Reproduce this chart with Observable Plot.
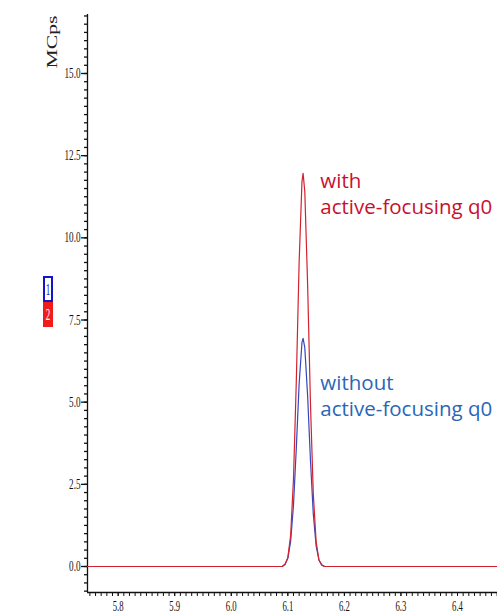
<!DOCTYPE html>
<html>
<head>
<meta charset="utf-8">
<script src="https://cdn.jsdelivr.net/npm/d3@7"></script>
<script src="https://cdn.jsdelivr.net/npm/@observablehq/plot@0.6"></script>
<style>
  html, body { margin: 0; padding: 0; background: #fff; }
  svg { display: block; }
</style>
</head>
<body>
<script>
// ---- data ----
const times = [5.74, 6.09, 6.095, 6.1, 6.105, 6.11, 6.115, 6.12, 6.125, 6.127, 6.13, 6.135, 6.14, 6.145, 6.15, 6.155, 6.16, 6.165, 6.48];
const withFocusing = [0, 0, 0.06, 0.27, 0.96, 2.66, 5.65, 9.27, 11.71, 11.96, 11.41, 8.57, 4.96, 2.21, 0.76, 0.20, 0.04, 0, 0];
const withoutFocusing = [0, 0, 0.07, 0.25, 0.77, 1.87, 3.61, 5.56, 6.82, 6.94, 6.66, 5.19, 3.23, 1.60, 0.63, 0.20, 0.05, 0, 0];

const xDomain = [5.7458, 6.4707];
const yDomain = [-0.791, 16.795];
const xLabelTicks = [5.8, 5.9, 6.0, 6.1, 6.2, 6.3, 6.4];
const xMinorTicks = d3.range(575, 648).map(v => v / 100);
const yLabelTicks = [0, 2.5, 5, 7.5, 10, 12.5, 15];
const yMinorTicks = d3.range(-3, 68).map(v => v / 4);
const unitLabel = ["MCps"];
const annotations = [
  {x: 6.1575, y: 11.72, text: "with", series: "with"},
  {x: 6.1575, y: 10.935, text: "active-focusing q0", series: "with"},
  {x: 6.1575, y: 5.58, text: "without", series: "without"},
  {x: 6.1575, y: 4.79, text: "active-focusing q0", series: "without"}
];

const redLine = "#d3222f";
const blueLine = "#3547bd";
const redText = "#c8102e";
const blueText = "#2a66b8";
const serif = "Liberation Serif";

const rows = times.map((t, i) => ({t, red: withFocusing[i], blue: withoutFocusing[i]}));

const chart = Plot.plot({
  width: 497,
  height: 614,
  marginLeft: 87,
  marginRight: 0,
  marginTop: 14,
  marginBottom: 22,
  x: {domain: xDomain},
  y: {domain: yDomain},
  style: {background: "white", fontFamily: serif, color: "#111"},
  marks: [
    Plot.axisY({ticks: yMinorTicks, tickSize: 3, tickFormat: () => "", label: null, strokeWidth: 1.3}),
    Plot.axisY({ticks: yLabelTicks, tickSize: 6, tickPadding: 1, tickFormat: d3.format(".1f"), fontSize: 14.5, fontFamily: serif, label: null, strokeWidth: 1.3}),
    Plot.axisX({ticks: xMinorTicks, tickSize: 4, tickFormat: () => "", label: null, strokeWidth: 1}),
    Plot.axisX({ticks: xLabelTicks, tickSize: 4, tickPadding: 3, tickFormat: d3.format(".1f"), fontSize: 15.5, fontFamily: serif, label: null}),
    Plot.ruleX([xDomain[0]], {stroke: "#111", strokeWidth: 1.3}),
    Plot.ruleY([yDomain[0]], {stroke: "#111", strokeWidth: 1.3}),
    Plot.lineY(rows, {x: "t", y: "blue", stroke: blueLine, strokeWidth: 1.2, clip: true}),
    Plot.lineY(rows, {x: "t", y: "red", stroke: redLine, strokeWidth: 1.2, clip: true}),
    Plot.text(annotations, {
      x: "x", y: "y", text: "text",
      fill: d => d.series === "with" ? redText : blueText,
      textAnchor: "start", lineAnchor: "middle",
      fontSize: 20.5, fontFamily: "Open Sans"
    }),
    Plot.text(unitLabel, {
      frameAnchor: "top-left", text: d => d, rotate: -90,
      dx: -35, dy: 27.5, textAnchor: "middle", lineAnchor: "middle",
      fontSize: 14.5, fontFamily: serif, fill: "#222"
    })
  ]
});

document.body.append(chart);

// condense the serif tick labels horizontally
const tickLabelPattern = /^-?\d+\.\d$/;
d3.select(chart).selectAll("text").each(function() {
  const txt = this.textContent;
  if (tickLabelPattern.test(txt)) {
    const isX = +this.getAttribute("font-size") === 15.5 || this.closest("g").getAttribute("aria-label") === "x-axis tick label";
    const s = isX ? 0.56 : 0.63;
    const tr = this.getAttribute("transform");
    if (tr) {
      this.setAttribute("transform", tr + ` scale(${s},1)`);
    } else {
      const x = this.getAttribute("x") || 0, y = this.getAttribute("y") || 0;
      this.removeAttribute("x"); this.removeAttribute("y");
      this.setAttribute("transform", `translate(${x},${y}) scale(${s},1)`);
    }
  } else if (txt === "MCps") {
    this.setAttribute("textLength", 53);
    this.setAttribute("lengthAdjust", "spacingAndGlyphs");
  }
});

// series legend boxes (1 = blue, 2 = red)
const lg = d3.select(chart).append("g");
lg.append("rect").attr("x", 44).attr("y", 277).attr("width", 8).attr("height", 24)
  .attr("fill", "white").attr("stroke", "#1414c8").attr("stroke-width", 2);
lg.append("text").attr("transform", "translate(48,295) scale(0.9,1.7)")
  .attr("text-anchor", "middle").attr("fill", "#1414c8")
  .attr("font-family", serif).attr("font-size", 10).text("1");
lg.append("rect").attr("x", 43).attr("y", 302).attr("width", 10).attr("height", 25)
  .attr("fill", "#f01c1c");
lg.append("text").attr("transform", "translate(48,320) scale(0.9,1.7)")
  .attr("text-anchor", "middle").attr("fill", "white")
  .attr("font-family", serif).attr("font-size", 10).text("2");
</script>
</body>
</html>
